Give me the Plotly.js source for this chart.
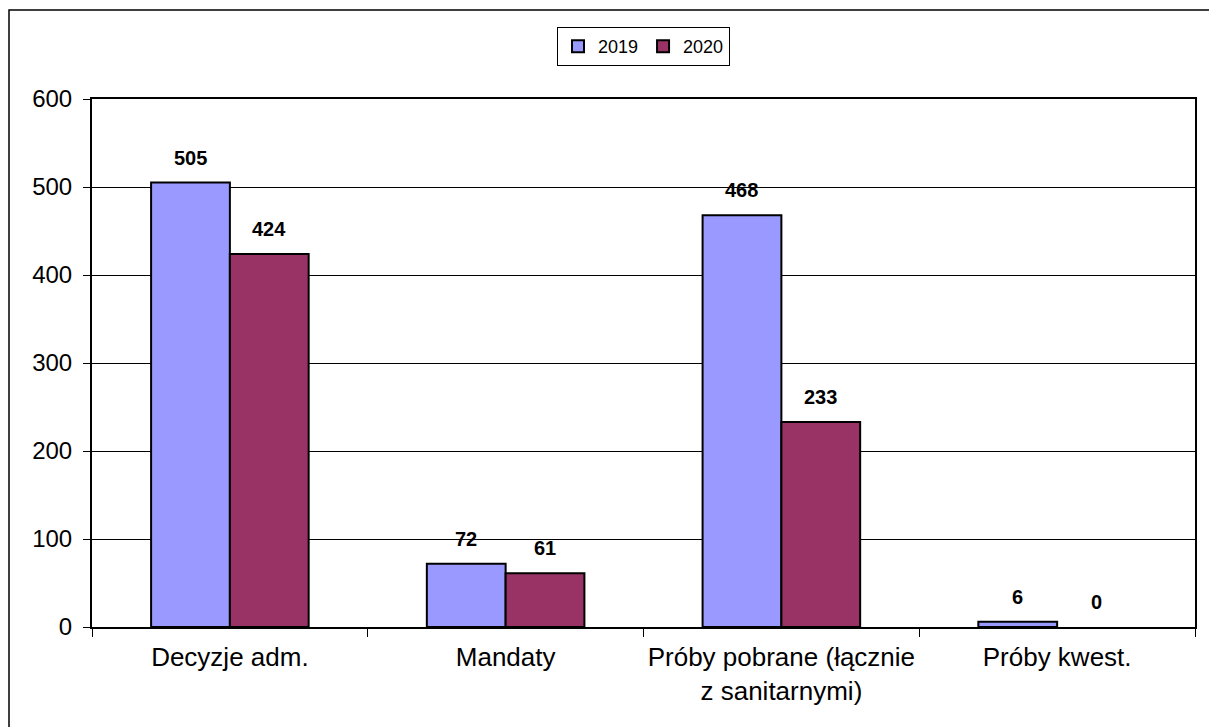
<!DOCTYPE html>
<html>
<head>
<meta charset="utf-8">
<script src="https://cdn.plot.ly/plotly-3.0.1.min.js"></script>
<style>
  html, body { margin: 0; padding: 0; background: #ffffff; }
  #chart { width: 1209px; height: 727px; }
</style>
</head>
<body>
<div id="chart"></div>
<script>
// ---- data ----
const categories = ["Decyzje adm.", "Mandaty", "Próby pobrane (łącznie<br>z sanitarnymi)", "Próby kwest."];
const seriesNames = ["2019", "2020"];
const values2019 = [505, 72, 468, 6];
const values2020 = [424, 61, 233, 0];
const yTickValues = [0, 100, 200, 300, 400, 500, 600];
const seriesColors = ["#9999FF", "#993366"];

// ---- layout geometry ----
const W = 1209, H = 727;
const margin = { l: 92, r: 14, t: 99, b: 100 };
const plotW = W - margin.l - margin.r;
const plotH = H - margin.t - margin.b;
const bargap = 0.4286;
const catW = plotW / categories.length;
const barOffset = catW * (1 - bargap) / 4;

const font = "Liberation Sans, Arial, sans-serif";

const allSeries = [values2019, values2020];
const traces = allSeries.map((vals, i) => ({
  type: "bar",
  name: seriesNames[i],
  x: categories,
  y: vals,
  marker: {
    color: seriesColors[i],
    line: { color: "#000000", width: vals.map(v => (v === 0 ? 0 : 2)) }
  },
  hoverinfo: "skip"
}));

const annotations = [];
allSeries.forEach((vals, i) => {
  vals.forEach((v, j) => {
    annotations.push({
      xref: "x", yref: "y",
      x: categories[j], y: v,
      xshift: (i === 0 ? -1 : 1) * barOffset,
      yshift: 12,
      yanchor: "bottom",
      text: String(v),
      showarrow: false,
      font: { family: font, size: 20, color: "#000000", weight: "bold" }
    });
  });
});

const layout = {
  width: W, height: H,
  margin: margin,
  paper_bgcolor: "#ffffff",
  plot_bgcolor: "#ffffff",
  barmode: "group",
  bargap: bargap,
  bargroupgap: 0,
  showlegend: true,
  legend: {
    orientation: "h",
    x: 0.5, xanchor: "center",
    y: (plotH - 27 + margin.t) / plotH, yanchor: "top",
    bordercolor: "#000000", borderwidth: 1,
    bgcolor: "#ffffff",
    font: { family: font, size: 18, color: "#000000" },
    itemwidth: 30,
    tracegroupgap: 0
  },
  xaxis: {
    type: "category",
    showline: true, linecolor: "#000000", linewidth: 2, mirror: true,
    ticks: "outside", tickson: "boundaries", ticklen: 8, tickwidth: 1, tickcolor: "#000000",
    ticklabelstandoff: 6,
    tickangle: 0,
    showgrid: false,
    tickfont: { family: font, size: 26, color: "#000000" },
    automargin: false
  },
  yaxis: {
    range: [0, 600],
    tickvals: yTickValues,
    ticktext: yTickValues.map(String),
    showline: true, linecolor: "#000000", linewidth: 2, mirror: true,
    ticks: "outside", ticklen: 7, tickwidth: 1, tickcolor: "#000000",
    ticklabelstandoff: 6,
    showgrid: true, gridcolor: "#000000", gridwidth: 1,
    zeroline: false,
    tickfont: { family: font, size: 24, color: "#000000" },
    automargin: false
  },
  annotations: annotations,
  shapes: [{
    type: "rect", xref: "paper", yref: "paper",
    x0: (9 - margin.l) / plotW, x1: 2,
    y0: -2, y1: (H - margin.b - 10) / plotH,
    line: { color: "#000000", width: 1.5 },
    fillcolor: "rgba(0,0,0,0)",
    layer: "above"
  }]
};

Plotly.newPlot("chart", traces, layout, { displayModeBar: false, staticPlot: true });
</script>
</body>
</html>
